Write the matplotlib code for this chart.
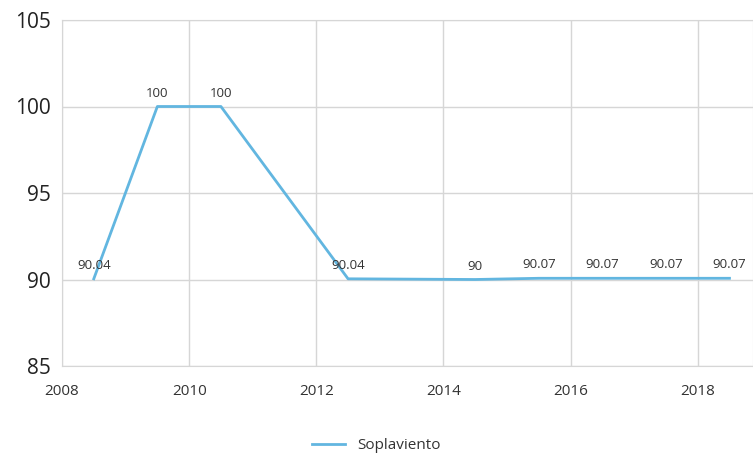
import matplotlib.pyplot as plt

years = [2008.5, 2009.5, 2010.5, 2012.5, 2014.5, 2015.5, 2016.5, 2017.5, 2018.5]
values = [90.04, 100, 100, 90.04, 90, 90.07, 90.07, 90.07, 90.07]
labels = ["90.04", "100", "100", "90.04", "90", "90.07", "90.07", "90.07", "90.07"]
series_name = "Soplaviento"

plt.rcParams['font.family'] = ['Open Sans', 'DejaVu Sans']

fig = plt.figure(figsize=(7.53, 4.55), dpi=100)
ax = fig.add_axes([62 / 753, 89 / 455, 691 / 753, 346 / 455])

ax.plot(years, values, color="#62b6e0", linewidth=2, label=series_name)
for x, y, t in zip(years, values, labels):
    ax.annotate(t, (x, y), xytext=(0, 5), textcoords="offset points",
                ha="center", va="bottom", fontsize=9.5, color="#333333")

ax.set_xlim(2008, 2018.87)
ax.set_ylim(85, 105)
ax.set_xticks([2008, 2010, 2012, 2014, 2016, 2018])
ax.set_yticks([85, 90, 95, 100, 105])
ax.tick_params(axis="x", labelsize=11, colors="#333333", length=0, pad=13)
ax.tick_params(axis="y", labelsize=15, colors="#222222", length=0, pad=8)
ax.grid(color="#d6d6d6", linewidth=1)
ax.set_axisbelow(True)
for s in ax.spines.values():
    s.set_color("#d6d6d6")

fig.legend(loc="lower center", bbox_to_anchor=(0.5, -0.026), frameon=False,
           fontsize=11, handlelength=2.2, labelcolor="#333333")

fig.savefig("out.png", dpi=100)
